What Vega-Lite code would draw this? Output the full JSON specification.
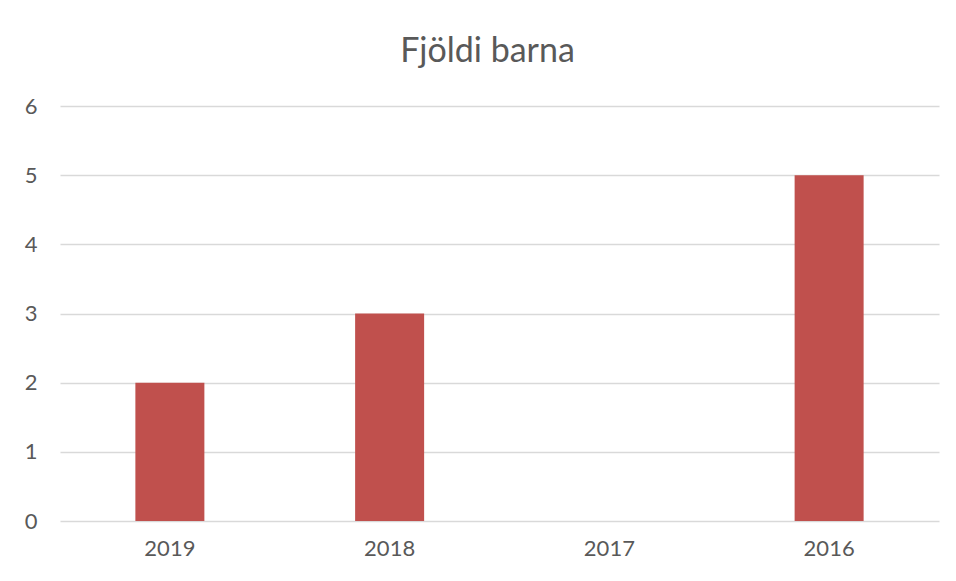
{
  "$schema": "https://vega.github.io/schema/vega-lite/v6.json",
  "autosize": "none",
  "width": 879,
  "height": 415,
  "padding": {"left": 60, "top": 106, "right": 17, "bottom": 60},
  "background": "white",
  "config": {"view": {"stroke": null}, "font": "Lato"},
  "title": {"text": "Fjöldi barna", "fontSize": 34, "font": "Lato", "fontWeight": "normal", "color": "#595959", "anchor": "middle", "frame": "group", "dx": -12, "offset": 26},
  "data": {"values": [
    {"year": "2019", "count": 2},
    {"year": "2018", "count": 3},
    {"year": "2017", "count": 0},
    {"year": "2016", "count": 5}
  ]},
  "mark": {"type": "bar", "color": "#c0504d", "width": {"band": 0.314}},
  "encoding": {
    "x": {"field": "year", "type": "ordinal", "sort": null,
      "scale": {"paddingInner": 0, "paddingOuter": 0},
      "axis": {"title": null, "labelAngle": 0, "ticks": false, "domain": false, "labelFontSize": 22, "labelColor": "#595959", "labelPadding": 17, "labelFont": "Lato"}},
    "y": {"field": "count", "type": "quantitative",
      "scale": {"domain": [0, 6]},
      "axis": {"title": null, "values": [0,1,2,3,4,5,6], "labelOverlap": false, "ticks": false, "domain": false, "grid": true, "gridColor": "#d9d9d9", "gridWidth": 1.5, "labelFontSize": 22, "labelColor": "#595959", "labelPadding": 23, "labelFont": "Lato"}}
  }
}
